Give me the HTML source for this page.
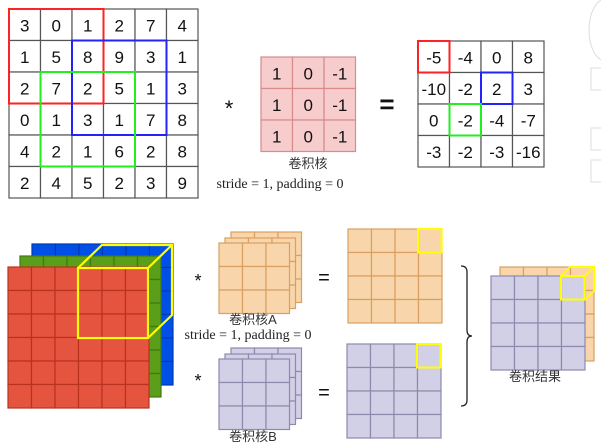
<!DOCTYPE html>
<html><head><meta charset="utf-8"><style>
body{margin:0;background:#fff;width:601px;height:448px;overflow:hidden}
svg{display:block}
text{font-family:"Liberation Sans","Noto Sans CJK SC",sans-serif}
.num{font-size:17px;fill:#111;text-anchor:middle;dominant-baseline:central}
.lab{font-size:13px;fill:#333;text-anchor:middle}
.ser{font-family:"Liberation Serif","Noto Serif CJK SC",serif;font-size:14px;fill:#222}
</style></head><body>
<svg id="s" width="601" height="448">
<g id="deco" fill="none" stroke="#ddd">
<path d="M601,0 C585,10 585,50 601,60"/><rect x="591" y="68" width="12" height="22"/><rect x="591" y="128" width="12" height="22"/><rect x="591" y="160" width="12" height="22"/>
</g>
<g id="topg"></g>
<g id="bot"></g>
</svg>
<script>
const inputVals=[[3,0,1,2,7,4],[1,5,8,9,3,1],[2,7,2,5,1,3],[0,1,3,1,7,8],[4,2,1,6,2,8],[2,4,5,2,3,9]];
const kernelVals=[[1,0,-1],[1,0,-1],[1,0,-1]];
const outputVals=[[-5,-4,0,8],[-10,-2,2,3],[0,-2,-4,-7],[-3,-2,-3,-16]];
const NS="http://www.w3.org/2000/svg";
function el(p,t,a,txt){const e=document.createElementNS(NS,t);for(const k in a)e.setAttribute(k,a[k]);if(txt!==undefined)e.textContent=txt;p.appendChild(e);return e;}
function grid(p,x,y,n,cs,fill,stroke,vals,name){
  const g=el(p,'g',{});
  
  
  for(let r=0;r<n;r++)for(let c=0;c<n;c++){
    el(g,'rect',{x:x+c*cs,y:y+r*cs,width:cs,height:cs,fill:fill,stroke:stroke,'stroke-width':1.2});
    if(vals){const t=el(g,'text',{x:x+c*cs+cs/2,y:y+r*cs+cs/2+1,class:'num'},vals[r][c]);
      
      }
  }
  return g;
}
function box(p,x,y,w,h,col,name,sw){const r=el(p,'rect',{x,y,width:w,height:h,fill:'none',stroke:col,'stroke-width':sw||2});
  
  return r;}
const topG=document.getElementById('topg');
const cs=31.5;
grid(topG,9,9,6,cs,'#fff','#555',inputVals,'input-matrix');
box(topG,9,9,3*cs,3*cs,'#f22','red-window');
box(topG,9+2*cs,9+cs,3*cs,3*cs,'#22f','blue-window');
box(topG,9+cs,9+2*cs,3*cs,3*cs,'#2e2','green-window');
el(topG,'text',{x:229,y:116,'font-size':22,'text-anchor':'middle',fill:'#111'},'*');
grid(topG,261,57,3,cs,'#f7cccc','#d98a8a',kernelVals,'kernel-matrix');
el(topG,'text',{x:308,y:168,class:'lab','font-size':14},'卷积核');
el(topG,'text',{x:280,y:188,class:'ser','text-anchor':'middle'},'stride = 1, padding = 0');
el(topG,'text',{x:387,y:113,'font-size':26,'text-anchor':'middle',fill:'#111','font-weight':'bold'},'=');
grid(topG,418,41,4,cs,'#fff','#555',outputVals,'output-matrix');
box(topG,418,41,cs,cs,'#f22','red-output-cell');
box(topG,418+2*cs,41+cs,cs,cs,'#22f','blue-output-cell');
box(topG,418+cs,41+2*cs,cs,cs,'#2e2','green-output-cell');

const bot=document.getElementById('bot');
const c6=23.5;
grid(bot,32,244,6,c6,'#0050e8','#0038b0',null,'blue-channel');
grid(bot,20,256,6,c6,'#5a9e1a','#3f7a10',null,'green-channel');
grid(bot,8,267,6,c6,'#e5543e','#b8321f',null,'red-channel');
const yl=el(bot,'path',{d:'M78,268 L102,245 L172,245 L172,315 L148,338 M148,268 L172,245',fill:'none',stroke:'#ff0','stroke-width':2.2});


box(bot,78,268,70,70,'#ff0','yellow-front-window',2.2);
const k=23.5;
grid(bot,231,232,3,k,'#f8d5aa','#d9a060',null,'kernel-a-layer3');
grid(bot,225,238,3,k,'#f8d5aa','#d9a060',null,'kernel-a-layer2');
grid(bot,219,243,3,k,'#f8d5aa','#d9a060',null,'kernel-a');
el(bot,'text',{x:198,y:287,'font-size':18,'text-anchor':'middle',fill:'#111'},'*');
el(bot,'text',{x:253,y:324,class:'lab'},'卷积核A');
el(bot,'text',{x:248,y:339,class:'ser','font-size':11,'text-anchor':'middle'},'stride = 1, padding = 0');
grid(bot,231,348,3,k,'#d2d0e6','#8e89ad',null,'kernel-b-layer3');
grid(bot,225,354,3,k,'#d2d0e6','#8e89ad',null,'kernel-b-layer2');
grid(bot,219,359,3,k,'#d2d0e6','#8e89ad',null,'kernel-b');
el(bot,'text',{x:198,y:387,'font-size':18,'text-anchor':'middle',fill:'#111'},'*');
el(bot,'text',{x:253,y:441,class:'lab'},'卷积核B');
el(bot,'text',{x:324,y:284,'font-size':20,'text-anchor':'middle',fill:'#111'},'=');
el(bot,'text',{x:324,y:399,'font-size':20,'text-anchor':'middle',fill:'#111'},'=');
grid(bot,348,229,4,k,'#f8d5aa','#d9a060',null,'output-a');
box(bot,418,229,k,k,'#ff0','output-a-cell',2);
grid(bot,347,344,4,k,'#d2d0e6','#8e89ad',null,'output-b');
box(bot,417,344,k,k,'#ff0','output-b-cell',2);
const br=el(bot,'path',{d:'M461,266 Q467,266 467,272 L467,330 Q467,336 472,336 Q467,336 467,342 L467,400 Q467,406 461,406',fill:'none',stroke:'#222','stroke-width':1.3});


grid(bot,500,267,4,k,'#f8d5aa','#d9a060',null,'result-back');
grid(bot,491,276,4,k,'#d2d0e6','#8e89ad',null,'result-front');
const yc=el(bot,'path',{d:'M561,276 L570,267 L594,267 L594,291 L585,300 M585,276 L594,267',fill:'none',stroke:'#ff0','stroke-width':2});


box(bot,561,276,k,k,'#ff0','result-cell',2);
el(bot,'text',{x:535,y:381,class:'lab'},'卷积结果');
</script>
</body></html>
